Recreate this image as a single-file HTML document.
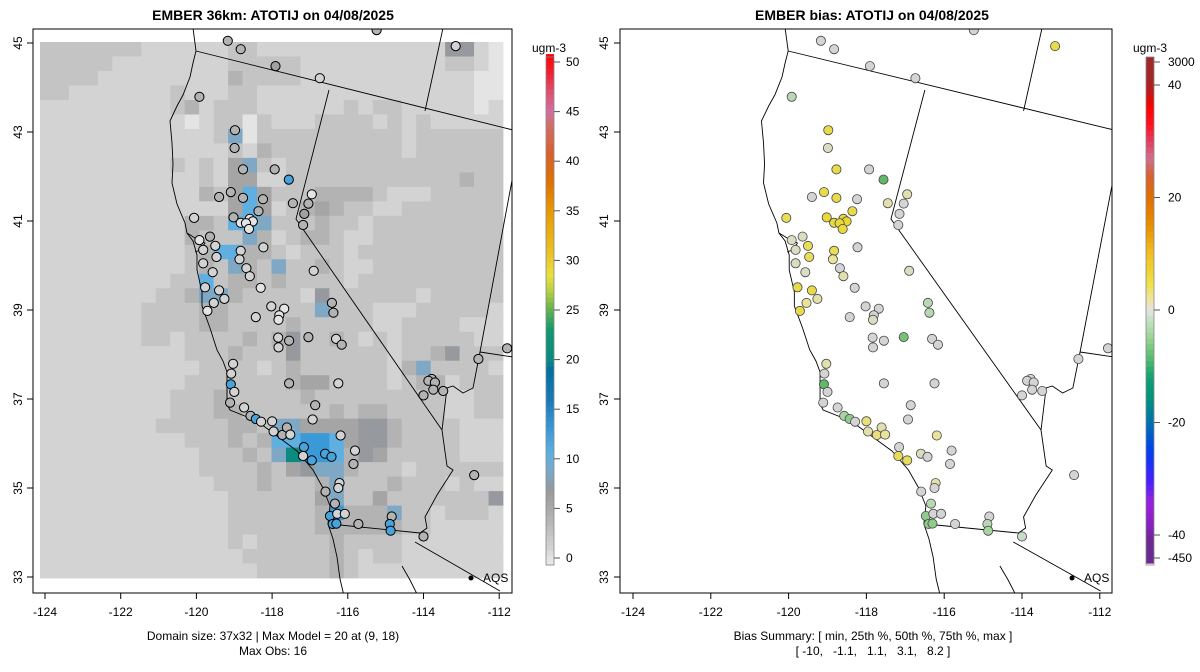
<!DOCTYPE html>
<html><head><meta charset="utf-8">
<style>
html,body{margin:0;padding:0;background:#fff;}
svg{display:block;font-family:"Liberation Sans",sans-serif;}
</style></head>
<body>
<svg id="chart" width="1200" height="672" viewBox="0 0 1200 672" xmlns="http://www.w3.org/2000/svg">
<defs>
<clipPath id="clipL"><rect x="33" y="29" width="479" height="564"/></clipPath>
<clipPath id="clipR"><rect x="620" y="29" width="492" height="564"/></clipPath>
</defs>
<rect x="0" y="0" width="1200" height="672" fill="#fff"/>
<text x="273" y="20" text-anchor="middle" font-size="14" font-weight="bold">EMBER 36km: ATOTIJ on 04/08/2025</text>
<text x="872" y="20" text-anchor="middle" font-size="14" font-weight="bold">EMBER bias: ATOTIJ on 04/08/2025</text>
<g id="gridL" clip-path="url(#clipL)"></g>
<g id="geoL" clip-path="url(#clipL)"></g>
<g id="geoR" clip-path="url(#clipR)"></g>
<g id="ptsL" clip-path="url(#clipL)"></g>
<g id="ptsR" clip-path="url(#clipR)"></g>
<g id="axes"></g>
<g id="cbars"></g>
<circle cx="471" cy="578" r="2.5" fill="#000"/>
<text x="483" y="582" font-size="12">AQS</text>
<circle cx="1072" cy="578" r="2.5" fill="#000"/>
<text x="1084" y="582" font-size="12">AQS</text>
<text x="273" y="640" text-anchor="middle" font-size="12">Domain size: 37x32 | Max Model = 20 at (9, 18)</text>
<text x="273" y="655" text-anchor="middle" font-size="12">Max Obs: 16</text>
<text x="873" y="640" text-anchor="middle" font-size="12">Bias Summary: [ min, 25th %, 50th %, 75th %, max ]</text>
<text x="873" y="655" text-anchor="middle" font-size="12" xml:space="preserve">[ -10,   -1.1,   1.1,   3.1,   8.2 ]</text>
</svg>
<script>
// ---- data ----
const gridRows = [
"cccccccbbbbbbccbbbbbbbbbbbbbffba",
"cccccbbbbbbbbcccccbbbbbbbbbbccba",
"ccccbbbbbbbbbdccccbbbbbbbbbbbbaa",
"ccbbbbbbbcbbbccbbbbbbbbbbbbbbbaa",
"bbbbbbbbbcdbcccbbbbbbcbccbbbbbab",
"bbbbbbbbbbabccacbbbccccbcbcbbbbb",
"bbbbbbbbbbbbcgaccccccccccbcccccc",
"bbbbbbbbbbbbbcbdcccccccccbcccccc",
"bbbbbbbbbcbcbegcbccccccccccccccc",
"bbbbbbbbbbbcbeebbccccccccccccdcc",
"bbbbbbbbbbbdcehecccddddcbbbcccccc",
"bbbbbbbbbbbbbehebcdedccbbccccccc",
"bbbbbbbbbbddchhgcccdccbccccccccc",
"bbbbbbbbbbdcccgdbcddcbbccccccccc",
"bbbbbbbbbbcdhhddcbcccbcccccccccc",
"bbbbbbbbbbcdcgdcgccdcbbccccccccc",
"bbbbbbbbbcchcddcdccccbcccccccccc",
"bbbbbbbbccdggdccccbfccccccbccccc",
"bbbbbbbccccddccccccgcccbbbcccccb",
"bbbbbbbccccddccccdcccccbbccccbbb",
"bbbbbbbccbccccdcdfccdcbcbcccccbb",
"bbbbbbbbbbcccdcccfccccccbccdfccc",
"bbbbbbbbbbbccccbcdccccccbdgcccc",
"bbbbbbbbbbcccccccdeeccccbcddbccc",
"bbbbbbbbbcccdcccccdcccccccccbbcc",
"bbbbbbbbbcccddccccccdcddccccbbcc",
"bbbbbbbbcccccddcggeeeeffdccccbbb",
"bbbbbbbbbbcccdcdhhiiheffdccccbbb",
"bbbbbbbbbbbcccdcgtiihdfecccccbbb",
"bbbbbbbbbbbccccdcefggdcccbcccccc",
"bbbbbbbbbbbbcccdcccdgcccdcccbcbb",
"bbbbbbbbbbbbbccccccegccecccccccfb",
"bbbbbbbbbbbbbccccccdidddgccbcccb",
"bbbbbbbbbbbbbccccccddddddccbbbbb",
"bbbbbbbbbbbbbcbcccccdccccbbbbbbb",
"bbbbbbbbbbbbbbccccccdcbccbbbbbbb",
"bbbbbbbbbbbbbbbcccccdcbbbbbbbbbb"
];
const cellCodes = ["a","b","c","d","e","f","g","h","i","t"];
const cellValues = [0,1,2.5,4,5.5,7,8.5,10.5,13,20];

const stationLon = [-119.17,-118.83,-117.91,-116.74,-115.24,-113.15,-119.92,-118.98,-118.99,-118.77,-117.93,-117.56,-116.95,-117.04,-117.45,-117.15,-117.18,-119.09,-119.40,-118.77,-118.24,-118.36,-119.02,-118.83,-118.59,-118.51,-118.69,-118.61,-120.06,-119.92,-119.64,-119.50,-119.82,-119.47,-118.83,-118.86,-119.82,-119.57,-118.68,-118.59,-118.23,-118.30,-119.77,-119.40,-119.26,-119.54,-119.71,-118.02,-117.68,-117.81,-117.83,-118.43,-116.90,-117.04,-117.84,-117.55,-117.83,-116.31,-116.16,-116.42,-116.38,-119.03,-119.08,-119.09,-119.00,-119.11,-118.74,-118.57,-118.43,-118.29,-118.00,-117.96,-117.73,-117.61,-117.52,-117.55,-116.25,-116.86,-116.93,-116.19,-117.16,-117.18,-116.95,-116.60,-116.43,-115.81,-115.85,-116.22,-116.25,-116.59,-116.34,-116.47,-116.28,-116.08,-116.40,-116.30,-115.72,-114.84,-114.89,-114.87,-114.00,-113.78,-113.87,-113.70,-113.74,-114.00,-113.48,-112.55,-111.79,-112.66];
const stationLat = [45.05,44.86,44.48,44.21,45.29,44.93,43.79,43.04,42.64,42.16,42.16,41.93,41.60,41.39,41.40,41.16,40.91,41.65,41.54,41.52,41.49,41.22,41.08,40.96,41.05,40.99,40.95,40.82,41.07,40.57,40.65,40.44,40.35,40.19,40.33,40.14,40.05,39.85,39.94,39.76,40.41,39.50,39.51,39.44,39.25,39.16,38.98,39.08,39.03,38.88,38.78,38.84,39.88,38.39,38.38,38.31,38.16,38.35,38.22,39.16,38.94,37.79,37.57,37.33,37.16,36.92,36.81,36.62,36.55,36.49,36.50,36.27,36.19,36.36,36.20,37.35,37.35,36.86,36.54,36.18,35.92,35.72,35.62,35.77,35.70,35.84,35.54,35.11,35.00,34.92,34.65,34.37,34.42,34.42,34.19,34.20,34.19,34.36,34.19,34.04,33.91,37.45,37.41,37.37,37.21,37.08,37.18,37.90,38.14,35.29];
const stationObs = [4,4,6,1,4,1,4,4,4,4,4,12,0,4,4,6,4,4,4,4,4,4,4,0,0,0,0,0,1,0,4,1,1,1,1,1,1,1,1,1,1,0,1,1,1,1,0,1,0,0,0,1,1,4,1,4,1,1,4,4,4,1,1,12,1,4,1,4,12,1,1,1,4,4,1,4,1,4,1,1,12,1,12,12,12,1,4,1,1,4,4,12,1,1,12,12,4,4,12,12,4,4,4,4,4,4,4,4,4,4];
const stationBias = [0,0,0,0,0,6,-2,6,1,6,0,-6,2,0,2,0,0,6,0,6,0,6,7,7,7,8,7,7,5,1,1,5,1,5,5,3,1,1,0,2,0,0,6,6,2,3,6,0,0,0,1,0,1,-5,0,0,0,0,0,-2,-2,2,0,-6,0,0,0,-3,-4,0,4,2,4,2,3,0,0,0,0,3,0,5,5,1,0,0,0,2,0,0,-2,-4,0,0,-4,-4,0,0,-2,-3,-1,0,0,0,0,0,0,0,0,0];

const leftTicks = [0,5,10,15,20,25,30,35,40,45,50];
const biasTickVals = [40,20,0,-20,-40];
const lonTicks = [-124,-122,-120,-118,-116,-114,-112];
const latTicks = [33,35,37,39,41,43,45];

// ---- scales ----
const xL = lon => 45 + (lon + 124) * 37.85;
const xR = lon => 633 + (lon + 124) * 38.9;
const yM = lat => 43 + (45 - lat) * 44.5;
const NS = "http://www.w3.org/2000/svg";
function mk(tag, attrs, parent){const e=document.createElementNS(NS,tag);for(const k in attrs)e.setAttribute(k,attrs[k]);parent.appendChild(e);return e;}
function hex(h){return [parseInt(h.slice(1,3),16),parseInt(h.slice(3,5),16),parseInt(h.slice(5,7),16)];}
function interp(stops,v){
  if(v<=stops[0][0])return stops[0][1];
  for(let i=1;i<stops.length;i++){if(v<=stops[i][0]){const a=stops[i-1],b=stops[i];const t=(v-a[0])/(b[0]-a[0]);const c1=hex(a[1]),c2=hex(b[1]);return "rgb("+c1.map((c,j)=>Math.round(c+(c2[j]-c)*t)).join(",")+")";}}
  return stops[stops.length-1][1];
}
const obsStops=[[-1,"#e8e8e8"],[0,"#e4e4e4"],[1,"#d3d3d3"],[2.5,"#c4c4c4"],[4,"#b3b3b3"],[5.5,"#a5a5a5"],[7,"#969a9e"],[8.5,"#7ea8c4"],[10.5,"#5fb0e0"],[13,"#3a9ad8"],[16,"#1a78b8"],[19,"#0070a0"],[20,"#0a8a80"],[23,"#109870"],[25,"#60b050"],[27,"#b8d040"],[28.5,"#e8e040"],[31,"#ecc020"],[35,"#e89a00"],[38,"#e07000"],[41,"#d86030"],[44,"#d07070"],[45,"#d070a0"],[47,"#e05070"],[49,"#f02030"],[51,"#ff0000"]];
const biasStops=[[-41,"#6a2a90"],[-38,"#8a20c0"],[-34,"#9a20e0"],[-30,"#4020ff"],[-25,"#0040f0"],[-20,"#0070b0"],[-16,"#009080"],[-12,"#10a070"],[-8,"#60c070"],[-4,"#a8d8a0"],[-1.5,"#c8e0c8"],[0,"#e4e4e4"],[2,"#ece4a0"],[5,"#f0e040"],[10,"#f0c020"],[15,"#e89000"],[20,"#e07000"],[24,"#d86030"],[27,"#d07090"],[30,"#e04060"],[33,"#ff1020"],[36,"#ff0000"],[39,"#c01818"],[41,"#a02828"]];
const biasPtStops=[[-10,"#50b060"],[-6,"#60b868"],[-3,"#a8d4a0"],[-1,"#c8dcc8"],[0,"#d4d4d4"],[1,"#dcdcc0"],[3,"#e8e49c"],[5,"#e8dc58"],[8,"#e8d830"]];

// ---- grid ----
const gridG=document.getElementById("gridL");
const gx0=40,gx1=503,gy0=42,gy1=578;
const cw=(gx1-gx0)/32, ch=(gy1-gy0)/gridRows.length;
gridRows.forEach((row,r)=>{
  const s=(row+"bbbbbbbbbbbbbbbbbbbbbbbbbbbbbbbb").slice(0,32);
  for(let c=0;c<32;c++){
    const v=cellValues[cellCodes.indexOf(s[c])];
    const el=mk("rect",{x:(gx0+c*cw).toFixed(2),y:(gy0+r*ch).toFixed(2),width:(cw+0.4).toFixed(2),height:(ch+0.4).toFixed(2),fill:interp(obsStops,v)},gridG);
    
    
  }
});

// ---- geography (left-panel pixel space) ----
const geoPaths=[
"M193,28 L196,51 L193,63 L190,77 L183,95 L177,106 L170,121 L172,143 L173,164 L172,183 L177,204 L185,223 L187,233 L193,241 L197,255 L197,270 L202,292 L202,306 L210,328 L217,350 L223,361 L227,372 L227,390 L227,404 L230,410 L257,421 L273,433 L297,451 L313,470 L323,488 L330,506 L328,524 L333,539 L337,557 L340,579 L345,600",
"M187,233 L195,238 L205,243 L200,250 L195,252",
"M196,51 L513,130",
"M329,90 L296,219 L442,430",
"M442,430 L447,466 L453,470 L437,495 L425,517 L427,528 L420,533 L330,524",
"M415,542 L500,591",
"M443,28 L425,111",
"M513,175 L480,352 L473,388 L463,393 L453,386 L447,388 L442,430",
"M480,352 L513,357",
"M402,566 L410,580 L420,600"
];
[["geoL",""],["geoR","translate(586.75,0) scale(1.02774,1)"]].forEach(([id,tr])=>{
  const g=document.getElementById(id);
  const inner=mk("g",{transform:tr},g);
  geoPaths.forEach(d=>{
    const p=mk("path",{d:d,fill:"none",stroke:"#000","stroke-width":"0.9","vector-effect":"non-scaling-stroke"},inner);
    
    
  });
});

// ---- stations ----
const pL=document.getElementById("ptsL"), pR=document.getElementById("ptsR");
stationLon.forEach((lon,i)=>{
  const a=mk("circle",{cx:xL(lon).toFixed(1),cy:yM(stationLat[i]).toFixed(1),r:4.6,fill:interp(obsStops,stationObs[i]),stroke:"#000","stroke-width":1},pL);
  
  
  const b=mk("circle",{cx:xR(lon).toFixed(1),cy:yM(stationLat[i]).toFixed(1),r:4.6,fill:interp(biasPtStops,stationBias[i]),stroke:"#444","stroke-width":0.8},pR);
  
  
});

// ---- axes ----
const ax=document.getElementById("axes");
[[33,512,xL,22],[620,1112,xR,608]].forEach(([bx0,bx1,xf,ylx])=>{
  const box=mk("rect",{x:bx0,y:29,width:bx1-bx0,height:564,fill:"none",stroke:"#000","stroke-width":1},ax);
  
  
  lonTicks.forEach(v=>{
    const x=xf(v);
    const t=mk("line",{x1:x,x2:x,y1:593,y2:599,stroke:"#000"},ax);
    
    
    const l=mk("text",{x:x,y:616,"text-anchor":"middle","font-size":12},ax);
    l.textContent=v;
    
    
  });
  latTicks.forEach(v=>{
    const y=yM(v);
    const t=mk("line",{x1:bx0-6,x2:bx0,y1:y,y2:y,stroke:"#000"},ax);
    
    
    const l=mk("text",{x:ylx,y:y,"text-anchor":"middle","font-size":12,transform:"rotate(-90 "+ylx+" "+y+")"},ax);
    l.textContent=v;
    
    
  });
});

// ---- colorbars ----
const cb=document.getElementById("cbars");
const yCL=v=>558-v*9.92;
for(let v=-0.7;v<50.5;v+=0.5){
  const r=mk("rect",{x:546,y:yCL(v+0.5).toFixed(2),width:8,height:5.5,fill:interp(obsStops,v+0.25)},cb);
  
  
}
const fL=mk("rect",{x:546,y:57,width:8,height:508,fill:"none",stroke:"#888","stroke-width":0.8},cb);


leftTicks.forEach(v=>{
  const y=yCL(v);
  const t=mk("line",{x1:554,x2:560,y1:y,y2:y,stroke:"#555"},cb);
  
  
  const l=mk("text",{x:566,y:y+4,"font-size":12},cb);
  l.textContent=v;
  
  
});
const uL=mk("text",{x:549,y:52,"text-anchor":"middle","font-size":12},cb);
uL.textContent="ugm-3";



const yCR=v=>310-v*5.625;
for(let v=-45;v<45;v+=1){
  const y0=Math.max(57,yCR(v+1)), y1=Math.min(565,yCR(v));
  if(y1<=y0)continue;
  const r=mk("rect",{x:1146,y:y0.toFixed(2),width:8,height:(y1-y0+0.5).toFixed(2),fill:interp(biasStops,v+0.5)},cb);
  
  
}
const fR=mk("rect",{x:1146,y:57,width:8,height:508,fill:"none",stroke:"#888","stroke-width":0.8},cb);


const rightLabels=[["3000",62]].concat(biasTickVals.map(v=>[String(v),yCR(v)])).concat([["-450",558]]);
rightLabels.forEach(([s,y])=>{
  const t=mk("line",{x1:1154,x2:1160,y1:y,y2:y,stroke:"#555"},cb);
  
  
  const l=mk("text",{x:1168,y:y+4,"font-size":12},cb);
  l.textContent=s;
  
  
});
const uR=mk("text",{x:1150,y:52,"text-anchor":"middle","font-size":12},cb);
uR.textContent="ugm-3";


</script>
</body></html>
